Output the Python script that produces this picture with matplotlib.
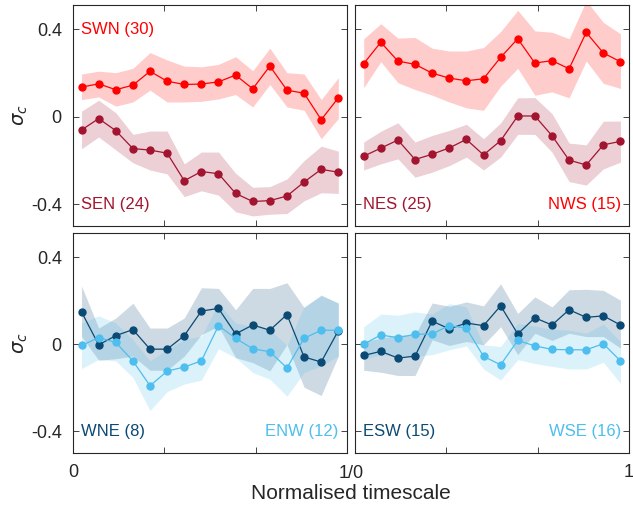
import numpy as np
import matplotlib
matplotlib.use('Agg')
from matplotlib import pyplot as plt

plt.rcParams['font.family'] = ['Liberation Sans', 'DejaVu Sans']

# 16 time bins on a normalised timescale
n = 16
x = (np.arange(n) + 0.5) / n

# top left
swn = [0.135, 0.150, 0.123, 0.144, 0.207, 0.162, 0.147, 0.149, 0.159, 0.190, 0.127, 0.231, 0.121, 0.107, -0.014, 0.086]
swn_hi = [0.195, 0.208, 0.201, 0.221, 0.293, 0.259, 0.231, 0.228, 0.239, 0.274, 0.210, 0.313, 0.201, 0.195, 0.078, 0.178]
swn_lo = [0.078, 0.090, 0.048, 0.067, 0.121, 0.067, 0.067, 0.070, 0.081, 0.101, 0.044, 0.147, 0.044, 0.029, -0.101, -0.009]
sen = [-0.061, -0.009, -0.064, -0.146, -0.153, -0.167, -0.293, -0.251, -0.261, -0.351, -0.388, -0.384, -0.363, -0.299, -0.241, -0.254]
sen_hi = [0.025, 0.075, 0.018, -0.081, -0.066, -0.066, -0.216, -0.162, -0.162, -0.259, -0.323, -0.320, -0.285, -0.201, -0.135, -0.158]
sen_lo = [-0.147, -0.093, -0.152, -0.211, -0.244, -0.262, -0.366, -0.339, -0.359, -0.435, -0.454, -0.446, -0.443, -0.385, -0.348, -0.351]

# top right
nws = [0.242, 0.340, 0.254, 0.239, 0.199, 0.176, 0.164, 0.173, 0.271, 0.356, 0.245, 0.256, 0.219, 0.385, 0.291, 0.251]
nws_hi = [0.356, 0.425, 0.359, 0.362, 0.313, 0.300, 0.300, 0.316, 0.389, 0.486, 0.392, 0.386, 0.356, 0.530, 0.431, 0.379]
nws_lo = [0.132, 0.251, 0.155, 0.124, 0.098, 0.067, 0.040, 0.029, 0.139, 0.221, 0.098, 0.113, 0.086, 0.254, 0.152, 0.129]
nes = [-0.181, -0.144, -0.107, -0.196, -0.172, -0.143, -0.104, -0.175, -0.110, 0.003, 0.003, -0.087, -0.199, -0.221, -0.129, -0.113]
nes_hi = [-0.116, -0.067, -0.028, -0.116, -0.086, -0.063, -0.035, -0.101, -0.029, 0.086, 0.087, 0.014, -0.121, -0.129, -0.021, -0.020]
nes_lo = [-0.244, -0.216, -0.193, -0.277, -0.254, -0.224, -0.185, -0.244, -0.185, -0.081, -0.081, -0.162, -0.297, -0.313, -0.239, -0.208]

# bottom left
wne = [0.148, -0.003, 0.039, 0.067, -0.023, -0.023, 0.039, 0.152, 0.164, 0.047, 0.088, 0.064, 0.136, -0.059, -0.082, 0.062]
wne_hi = [0.267, 0.074, 0.120, 0.188, 0.074, 0.074, 0.120, 0.259, 0.256, 0.158, 0.256, 0.256, 0.282, 0.168, 0.226, 0.188]
wne_lo = [0.036, -0.074, -0.067, -0.055, -0.120, -0.120, -0.055, 0.044, 0.082, -0.062, -0.085, -0.123, -0.002, -0.198, -0.236, -0.055]
enw = [-0.006, 0.030, 0.008, -0.077, -0.191, -0.124, -0.105, -0.077, 0.085, 0.027, -0.021, -0.035, -0.109, 0.027, 0.064, 0.064]
enw_hi = [0.097, 0.130, 0.097, 0.021, -0.077, -0.024, 0.021, 0.036, 0.188, 0.097, 0.082, 0.067, -0.006, 0.173, 0.221, 0.191]
enw_lo = [-0.112, -0.070, -0.077, -0.153, -0.305, -0.218, -0.183, -0.165, -0.021, -0.062, -0.130, -0.161, -0.239, -0.130, -0.100, -0.055]

# bottom right
esw = [-0.052, -0.033, -0.064, -0.055, 0.106, 0.070, 0.097, 0.085, 0.176, 0.047, 0.121, 0.088, 0.158, 0.123, 0.130, 0.088]
esw_hi = [0.012, 0.027, 0.042, 0.042, 0.189, 0.174, 0.194, 0.176, 0.277, 0.141, 0.217, 0.171, 0.250, 0.252, 0.247, 0.202]
esw_lo = [-0.120, -0.129, -0.144, -0.144, 0.020, -0.006, 0.012, -0.003, 0.080, -0.048, 0.050, 0.017, 0.050, 0.035, 0.035, -0.018]
wse = [0.000, 0.042, 0.030, 0.045, 0.047, 0.085, 0.074, -0.056, -0.095, 0.017, -0.008, -0.024, -0.026, -0.026, 0.002, -0.077]
wse_hi = [0.080, 0.138, 0.133, 0.148, 0.138, 0.186, 0.171, -0.003, -0.011, 0.095, 0.083, 0.068, 0.065, 0.050, 0.092, 0.012]
wse_lo = [-0.071, -0.048, -0.053, -0.056, -0.048, -0.026, -0.008, -0.114, -0.165, -0.071, -0.089, -0.102, -0.114, -0.114, -0.083, -0.180]

red = '#ff0000'
dred = '#a2142f'
dblue = '#0a4a74'
lblue = '#4dbeee'

fig = plt.figure(figsize=(6.33, 5.09), dpi=100)
boxes = [[0.1153, 0.556, 0.4327, 0.434], [0.561, 0.556, 0.4327, 0.434],
         [0.1153, 0.110, 0.4327, 0.432], [0.561, 0.110, 0.4327, 0.432]]

panels = [
    [(swn, swn_lo, swn_hi, red, 'SWN (30)', 'tl'), (sen, sen_lo, sen_hi, dred, 'SEN (24)', 'bl')],
    [(nws, nws_lo, nws_hi, red, 'NWS (15)', 'br'), (nes, nes_lo, nes_hi, dred, 'NES (25)', 'bl')],
    [(wne, wne_lo, wne_hi, dblue, 'WNE (8)', 'bl'), (enw, enw_lo, enw_hi, lblue, 'ENW (12)', 'br')],
    [(esw, esw_lo, esw_hi, dblue, 'ESW (15)', 'bl'), (wse, wse_lo, wse_hi, lblue, 'WSE (16)', 'br')],
]

for k in range(4):
    ax = fig.add_axes(boxes[k])
    for y, lo, hi, col, lab, pos in panels[k]:
        ax.fill_between(x, lo, hi, color=col, alpha=0.2, linewidth=0)
    for y, lo, hi, col, lab, pos in panels[k]:
        ax.plot(x, y, '-o', color=col, lw=0.9, ms=5)
        if pos == 'tl':
            ax.text(0.03, 0.4, lab, color=col, fontsize=12, va='center', ha='left')
        elif pos == 'bl':
            ax.text(0.03, -0.4, lab, color=col, fontsize=12, va='center', ha='left')
        else:
            ax.text(0.97, -0.4, lab, color=col, fontsize=12, va='center', ha='right')
    ax.set_xlim(0, 1)
    ax.set_ylim(-0.5, 0.51)
    ax.set_xticks([0, 1/3, 2/3, 1])
    ax.set_yticks([-0.4, 0, 0.4])
    ax.tick_params(direction='in', top=True, right=True, length=4, width=0.6,
                   labelsize=13, colors='#262626', pad=8)
    for s in ax.spines.values():
        s.set_linewidth(0.8)
        s.set_color('#262626')
    if k % 2 == 0:
        ax.set_yticklabels(['-0.4', '0', '0.4'])
        ax.set_ylabel(r'$\sigma_c$', fontsize=14, color='#262626', labelpad=1)
    else:
        ax.set_yticklabels([])
    if k == 2:
        ax.set_xticklabels(['0', '', '', ''])
    elif k == 3:
        ax.set_xticklabels(['', '', '', '1'])
    else:
        ax.set_xticklabels([])

fig.text(0.5545, 0.069, '1/0', fontsize=13, color='#262626', ha='center', va='center')
fig.text(0.5545, 0.031, 'Normalised timescale', fontsize=15, color='#262626', ha='center', va='center')

fig.savefig('out.png', dpi=100)
